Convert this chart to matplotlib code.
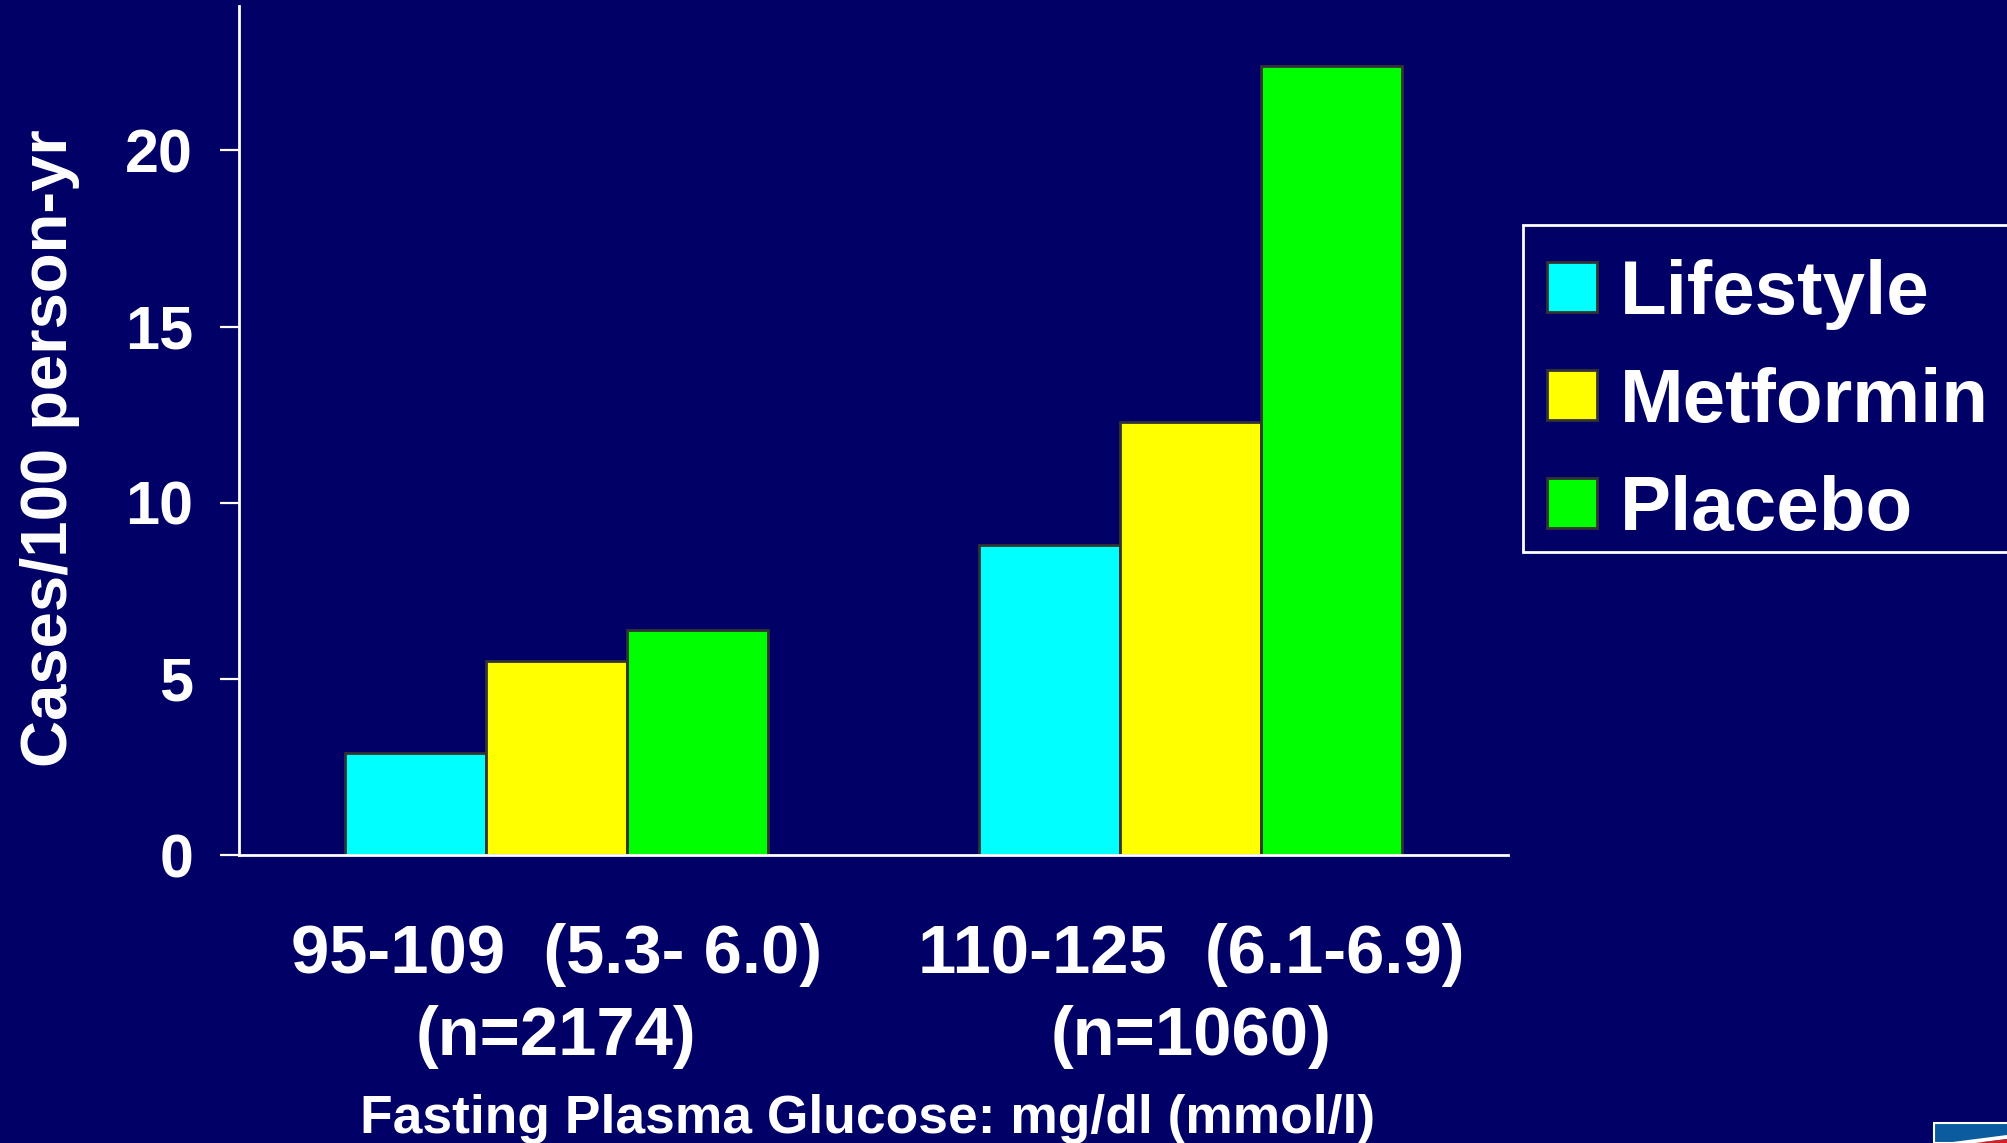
import numpy as np
import matplotlib
matplotlib.use("Agg")
import matplotlib.pyplot as plt
from matplotlib.patches import Rectangle, Polygon

# Diabetes incidence by baseline fasting glucose and treatment arm
groups = ["95-109  (5.3- 6.0)\n(n=2174)", "110-125  (6.1-6.9)\n(n=1060)"]
arms = ["Lifestyle", "Metformin", "Placebo"]
lifestyle = [2.9, 8.8]
metformin = [5.5, 12.3]
placebo = [6.4, 22.4]
yticks = [0, 5, 10, 15, 20]

bg = "#000066"
colors = ["#00ffff", "#ffff00", "#00ff00"]
W, H = 2007, 1143

plt.rcParams["font.family"] = ["Liberation Sans", "DejaVu Sans"]
plt.rcParams["font.weight"] = "bold"

fig = plt.figure(figsize=(W / 100, H / 100), dpi=100, facecolor=bg)
ax = fig.add_axes([239 / W, 1 - 855 / H, (1508 - 239) / W, (855 - 6) / H])
ax.set_facecolor(bg)

x = np.arange(len(groups))
w = 0.222
for i, (vals, c, name) in enumerate(zip([lifestyle, metformin, placebo], colors, arms)):
    ax.bar(x + (i - 1) * w, vals, width=w, color=c, edgecolor="#333333",
           linewidth=2, label=name, zorder=2)

ax.set_xlim(-0.5, 1.5)
ax.set_ylim(0, 24.1)
ax.set_yticks(yticks)
ax.set_xticks(x)
ax.set_xticklabels(groups, fontsize=49.5, fontweight="bold", color="white", linespacing=1.35)
ax.tick_params(axis="x", length=0, pad=49)
ax.tick_params(axis="y", length=14, width=1.6, color="white", labelcolor="white",
               labelsize=44, pad=19)
for lab in ax.get_yticklabels():
    lab.set_fontweight("bold")

for side in ["top", "right"]:
    ax.spines[side].set_visible(False)
for side in ["left", "bottom"]:
    ax.spines[side].set_color("white")
    ax.spines[side].set_linewidth(2)

ax.set_ylabel("Cases/100 person-yr", fontsize=47, fontweight="bold", color="white")
ax.yaxis.set_label_coords(-0.125, 0.479)
ax.set_xlabel("Fasting Plasma Glucose: mg/dl (mmol/l)", fontsize=38.4, fontweight="bold",
              color="white", labelpad=18)
ax.xaxis.label.set_x(0.495)

# legend box runs off the right edge
fig.patches.append(Rectangle((1523 / W, 1 - 552 / H), 0.3, (552 - 225) / H,
                             transform=fig.transFigure, facecolor=bg,
                             edgecolor="white", linewidth=2, zorder=1))
leg = fig.legend(loc="center left", bbox_to_anchor=(1547 / W, 1 - 402.5 / H),
                 fontsize=55, frameon=False, handlelength=0.65, handleheight=0.63,
                 handletextpad=0.3, labelspacing=0.485, borderpad=0, borderaxespad=0)
leg.set_zorder(3)
for t in leg.get_texts():
    t.set_color("white")
    t.set_fontweight("bold")

# corner logo fragment
fig.patches.append(Rectangle((1934 / W, 0), 0.05, 20 / H, transform=fig.transFigure,
                             facecolor="#0b5c9e", edgecolor="white", linewidth=1.5))
fig.patches.append(Polygon([(1945 / W, 0), (1.0, 8 / H), (1.0, 4 / H), (1975 / W, 0)],
                           closed=True, transform=fig.transFigure,
                           facecolor="white", edgecolor="none"))
fig.patches.append(Polygon([(1975 / W, 0), (1.0, 4 / H), (1.0, 0)],
                           closed=True, transform=fig.transFigure,
                           facecolor="#d0202a", edgecolor="none"))

fig.savefig("out.png", dpi=100, facecolor=bg)
